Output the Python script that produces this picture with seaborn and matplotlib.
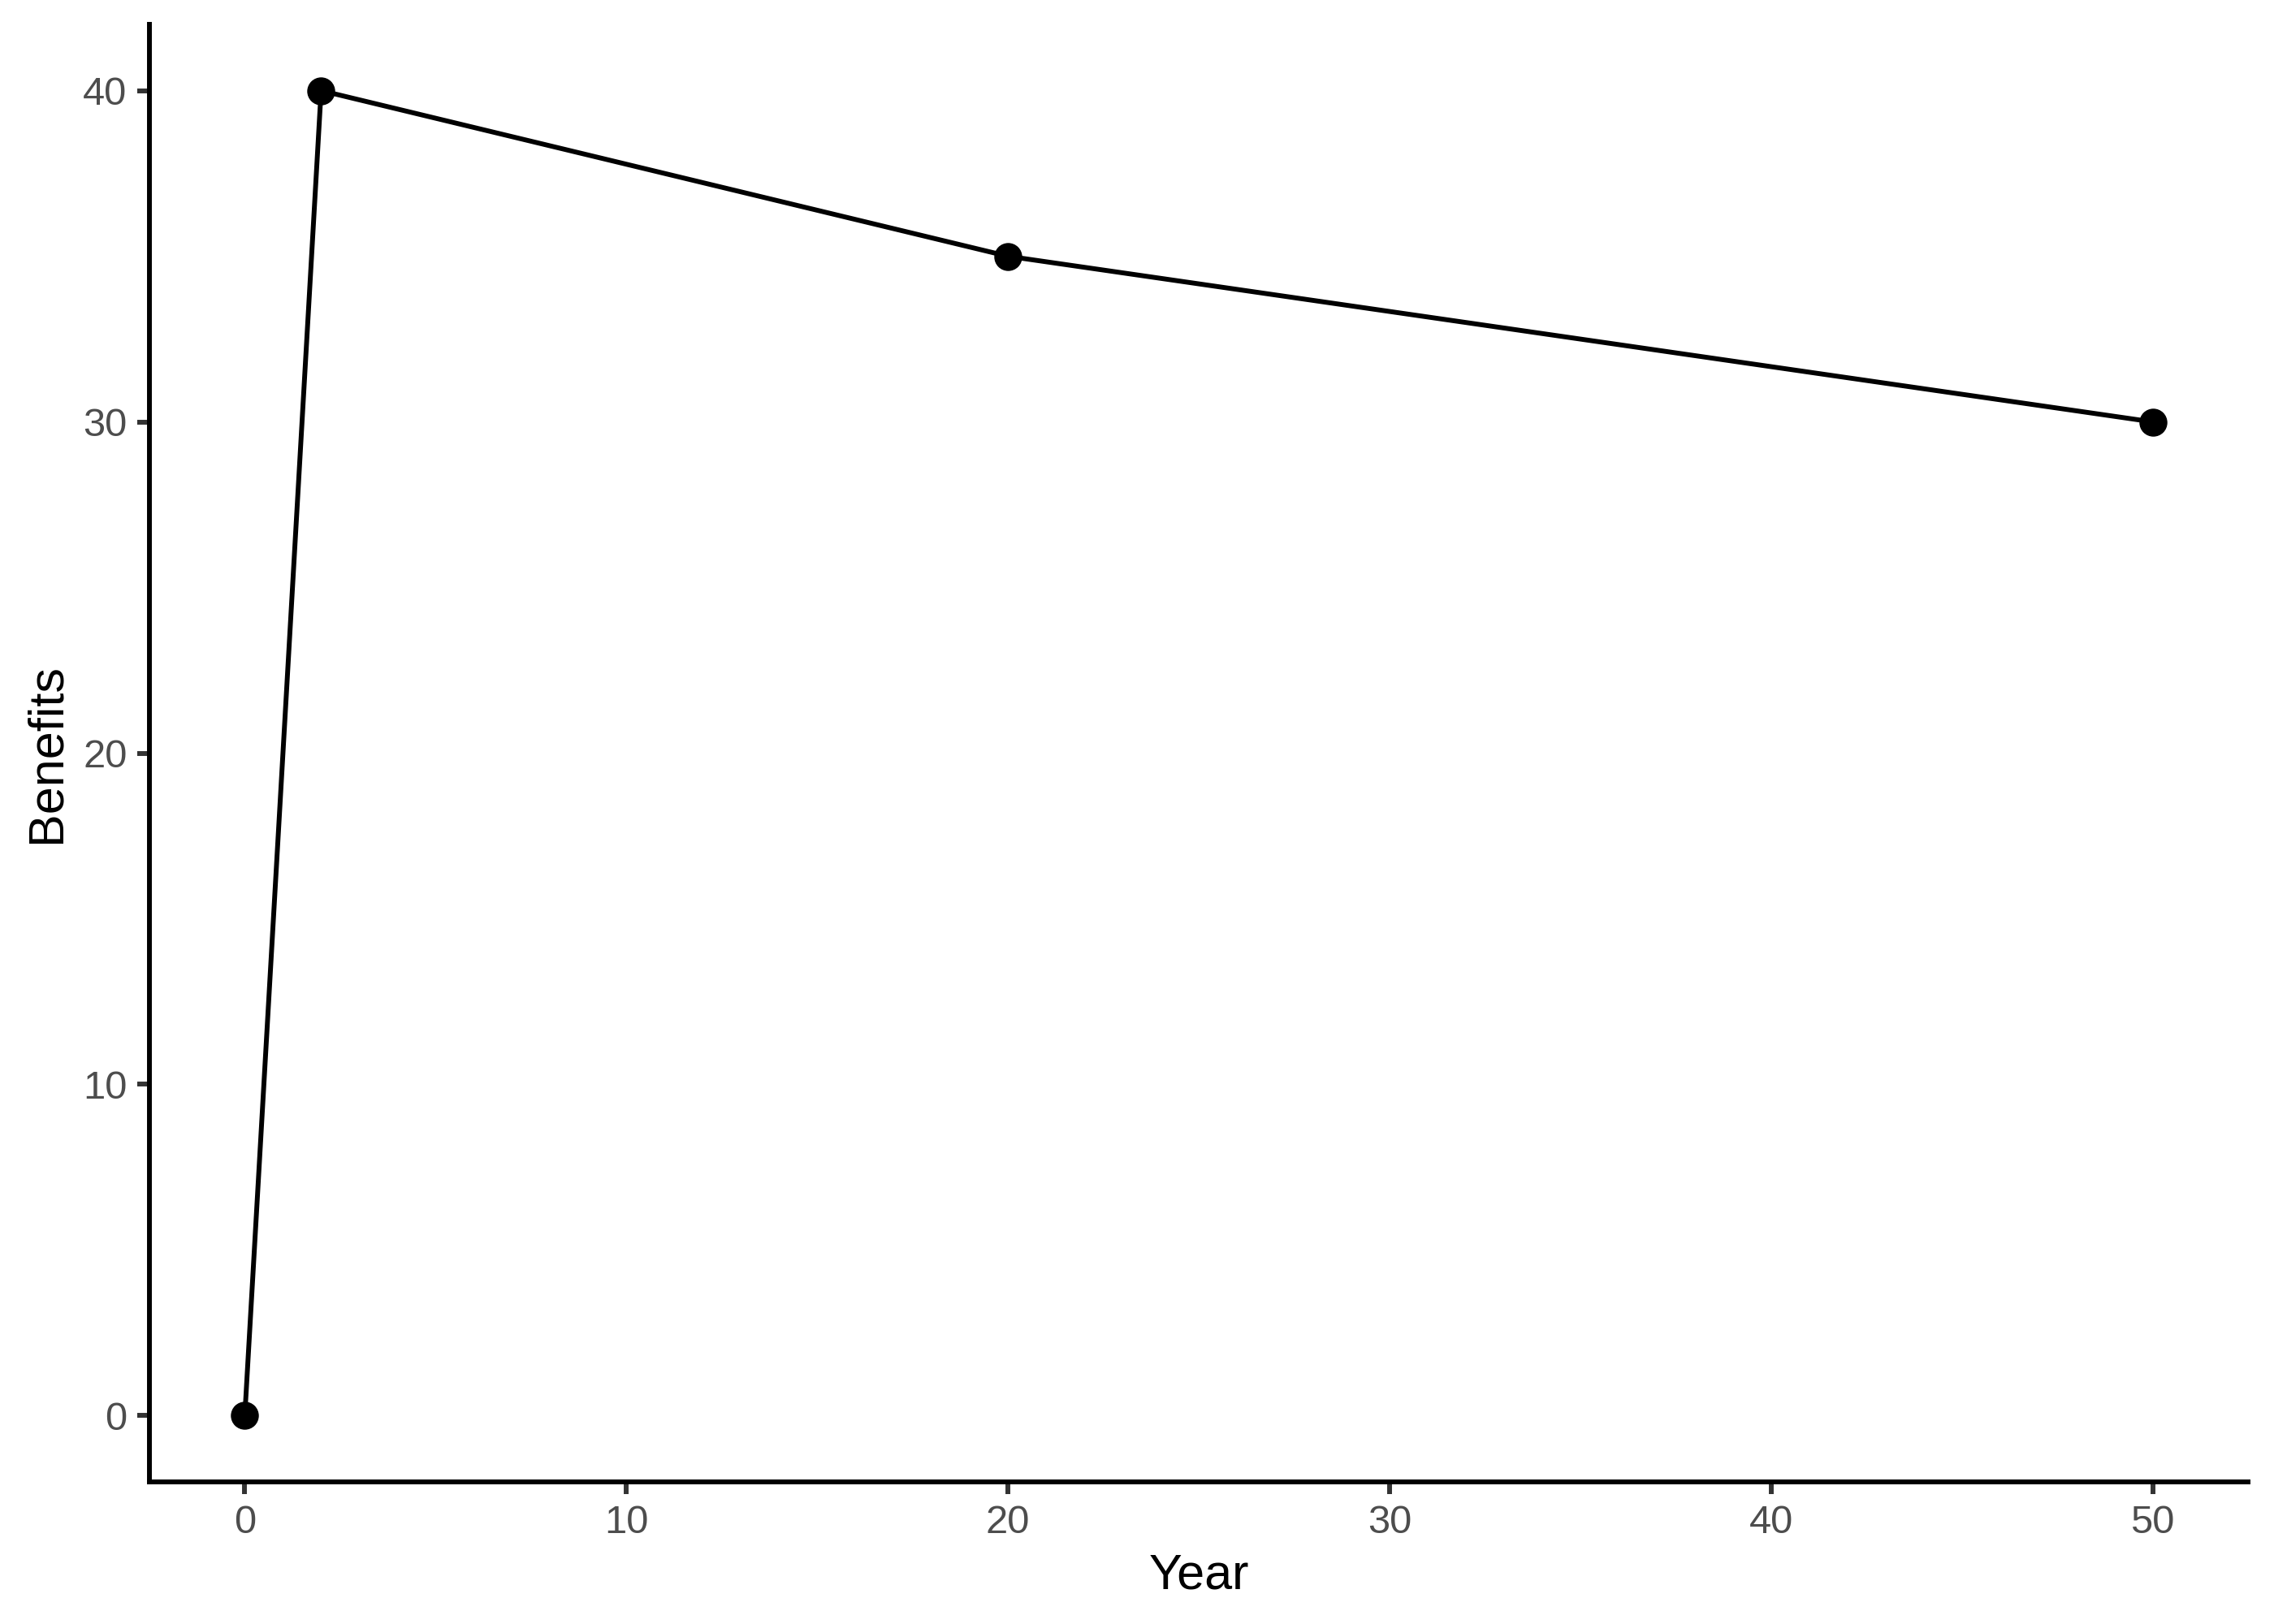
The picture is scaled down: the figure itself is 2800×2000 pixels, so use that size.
import seaborn as sns
import matplotlib.pyplot as plt
import pandas as pd

# data
years = [0, 2, 20, 50]
benefits = [0, 40, 35, 30]

sns.set_theme(style="ticks")
plt.rcParams["font.family"] = ["Liberation Sans", "DejaVu Sans"]

df = pd.DataFrame({"Year": years, "Benefits": benefits})

fig = plt.figure(figsize=(7, 5), dpi=400)
ax = fig.add_axes([0.0657, 0.0875, 0.9886 - 0.0657, 0.985 - 0.0875])

sns.lineplot(
    data=df, x="Year", y="Benefits", ax=ax,
    color="black", linewidth=1.07,
    marker="o", markersize=6.2, markeredgewidth=0, markerfacecolor="black",
)

ax.set_xlim(-2.5, 52.5)
ax.set_ylim(-2, 42)
ax.set_xticks([0, 10, 20, 30, 40, 50])
ax.set_yticks([0, 10, 20, 30, 40])

sns.despine(ax=ax)
for side in ["left", "bottom"]:
    ax.spines[side].set_linewidth(1.07)
    ax.spines[side].set_color("black")
    ax.spines[side].set_capstyle("projecting")

ax.tick_params(axis="both", length=2.75, width=1.07, color="#333333",
               labelsize=8.8, labelcolor="#4D4D4D", pad=2.2)
ax.set_xlabel("Year", fontsize=11, color="black", labelpad=2.75)
ax.set_ylabel("Benefits", fontsize=11, color="black", labelpad=2.75)
ax.grid(False)

fig.savefig("out.png", dpi=400)
